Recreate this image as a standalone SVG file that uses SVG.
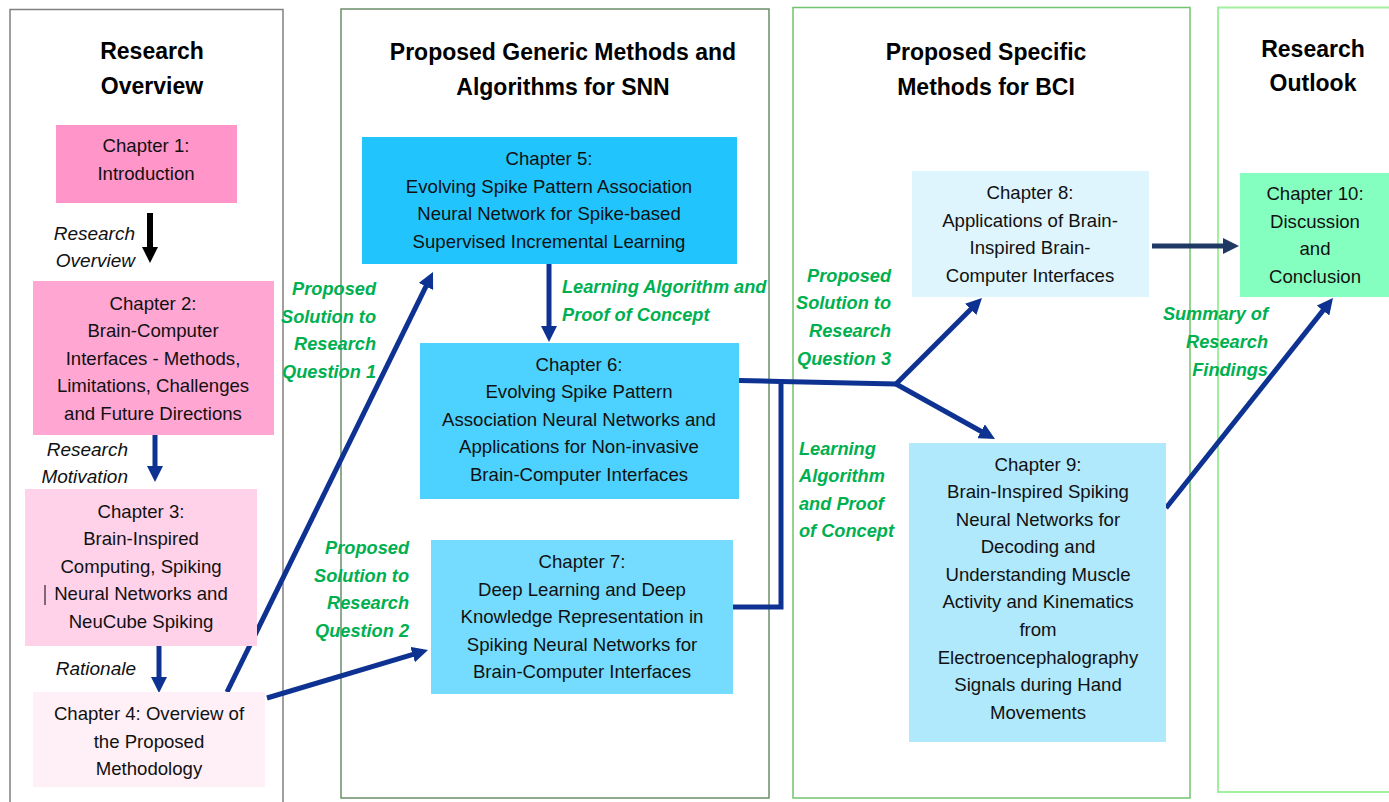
<svg xmlns="http://www.w3.org/2000/svg" width="1389" height="802" viewBox="0 0 1389 802">
  <style>
    .body { font-family: "Liberation Sans", Arial, sans-serif; font-size: 18.6px; fill: #111; text-anchor: middle; }
    .title { font-family: "Liberation Sans", Arial, sans-serif; font-size: 23px; font-weight: bold; fill: #000; text-anchor: middle; }
    .lbl { font-family: "Liberation Sans", Arial, sans-serif; font-size: 19px; font-style: italic; fill: #111; text-anchor: end; }
    .glbl { font-family: "Liberation Sans", Arial, sans-serif; font-size: 18.2px; font-style: italic; font-weight: bold; fill: #00b050; }
    .end { text-anchor: end; }
    .start { text-anchor: start; }
    .panel { fill: none; }
    .conn { fill: none; stroke: #0d3291; stroke-width: 5; stroke-linecap: butt; }
    .blue { marker-end: url(#headBlue); }
  </style>
  <defs>
    <marker id="headBlue" markerUnits="userSpaceOnUse" markerWidth="16" markerHeight="16" viewBox="0 0 16 16" refX="4" refY="8" orient="auto">
      <path d="M0,0 L16,8 L0,16 z" fill="#0d3291"/>
    </marker>
    <marker id="headBlack" markerUnits="userSpaceOnUse" markerWidth="16" markerHeight="16" viewBox="0 0 16 16" refX="4" refY="8" orient="auto">
      <path d="M0,0 L16,8 L0,16 z" fill="#000"/>
    </marker>
    <marker id="headNavy" markerUnits="userSpaceOnUse" markerWidth="16" markerHeight="16" viewBox="0 0 16 16" refX="4" refY="8" orient="auto">
      <path d="M0,0 L16,8 L0,16 z" fill="#1f3864"/>
    </marker>
  </defs>

  <rect width="1389" height="802" fill="#fff"/>

  <!-- column frames -->
  <g id="panels">
    <rect class="panel" x="10" y="9.5" width="273" height="800" stroke="#808080" stroke-width="1.5"/>
    <rect class="panel" x="341" y="9" width="428" height="789" stroke="#6b8e6b" stroke-width="1.5"/>
    <rect class="panel" x="793" y="7.5" width="397" height="790.5" stroke="#72c472" stroke-width="1.5"/>
    <rect class="panel" x="1218" y="7.5" width="180" height="784.5" stroke="#a0f0a0" stroke-width="2"/>
  </g>

  <!-- column headings -->
  <g id="headings">
    <text class="title" x="152" y="59">Research</text>
    <text class="title" x="152" y="94">Overview</text>
    <text class="title" x="563" y="60">Proposed Generic Methods and</text>
    <text class="title" x="563" y="95">Algorithms for SNN</text>
    <text class="title" x="986" y="60">Proposed Specific</text>
    <text class="title" x="986" y="95">Methods for BCI</text>
    <text class="title" x="1313" y="56.5">Research</text>
    <text class="title" x="1313" y="90.5">Outlook</text>
  </g>

  <!-- connectors -->
  <g id="connectors">
    <line x1="150" y1="213" x2="150" y2="251" stroke="#000" stroke-width="6" marker-end="url(#headBlack)"/>
    <line class="conn blue" x1="155" y1="433" x2="155" y2="470"/>
    <line class="conn blue" x1="159" y1="646" x2="159" y2="681"/>
    <line class="conn blue" x1="227" y1="692" x2="427.7" y2="282.8"/>
    <line class="conn blue" x1="267" y1="698" x2="416.5" y2="653.4"/>
    <line class="conn blue" x1="549" y1="264" x2="549" y2="330"/>
    <polyline class="conn" points="739,380.5 781,381.5 896,384"/>
    <polyline class="conn" points="733,607 781,607 781,379"/>
    <line class="conn blue" x1="896" y1="384" x2="973.5" y2="306.5"/>
    <line class="conn blue" x1="896" y1="384" x2="984.5" y2="433.2"/>
    <line x1="1152" y1="246" x2="1227" y2="246" stroke="#1f3864" stroke-width="5" marker-end="url(#headNavy)"/>
    <line class="conn blue" x1="1166" y1="508" x2="1325.5" y2="307.4"/>
  </g>

  <!-- connector labels -->
  <g id="labels">
    <text class="lbl" x="135" y="240">Research</text>
    <text class="lbl" x="135" y="267">Overview</text>
    <text class="lbl" x="128" y="456">Research</text>
    <text class="lbl" x="128" y="483">Motivation</text>
    <text class="lbl" x="136" y="675">Rationale</text>

    <text class="glbl end" x="376" y="295">Proposed</text>
    <text class="glbl end" x="376" y="322.5">Solution to</text>
    <text class="glbl end" x="376" y="350">Research</text>
    <text class="glbl end" x="376" y="377.5">Question 1</text>

    <text class="glbl end" x="409" y="554">Proposed</text>
    <text class="glbl end" x="409" y="581.5">Solution to</text>
    <text class="glbl end" x="409" y="609">Research</text>
    <text class="glbl end" x="409" y="636.5">Question 2</text>

    <text class="glbl start" x="562" y="293">Learning Algorithm and</text>
    <text class="glbl start" x="562" y="320.5">Proof of Concept</text>

    <text class="glbl end" x="891" y="281.5">Proposed</text>
    <text class="glbl end" x="891" y="309">Solution to</text>
    <text class="glbl end" x="891" y="337">Research</text>
    <text class="glbl end" x="891" y="364.5">Question 3</text>

    <text class="glbl start" x="799" y="455">Learning</text>
    <text class="glbl start" x="799" y="482">Algorithm</text>
    <text class="glbl start" x="799" y="509.5">and Proof</text>
    <text class="glbl start" x="799" y="537">of Concept</text>

    <text class="glbl end" x="1268" y="320">Summary of</text>
    <text class="glbl end" x="1268" y="347.5">Research</text>
    <text class="glbl end" x="1268" y="375.5">Findings</text>
  </g>

  <!-- chapters -->
  <g id="ch1">
    <rect x="56" y="125" width="181" height="78" fill="#ff95c8"/>
    <text class="body" x="146" y="152">Chapter 1:</text>
    <text class="body" x="146" y="179.5">Introduction</text>
  </g>
  <g id="ch2">
    <rect x="33" y="281" width="241" height="154" fill="#ffa6d3"/>
    <text class="body" x="153" y="309.5">Chapter 2:</text>
    <text class="body" x="153" y="337">Brain-Computer</text>
    <text class="body" x="153" y="364.5">Interfaces - Methods,</text>
    <text class="body" x="153" y="392">Limitations, Challenges</text>
    <text class="body" x="153" y="419.5">and Future Directions</text>
  </g>
  <g id="ch3">
    <rect x="25" y="489" width="232" height="157" fill="#ffd2ea"/>
    <text class="body" x="141" y="517.5">Chapter 3:</text>
    <text class="body" x="141" y="545">Brain-Inspired</text>
    <text class="body" x="141" y="572.5">Computing, Spiking</text>
    <text class="body" x="141" y="600">Neural Networks and</text>
    <text class="body" x="141" y="627.5">NeuCube Spiking</text>
    <line x1="45" y1="585" x2="45" y2="605" stroke="#000" stroke-width="1"/>
  </g>
  <g id="ch4">
    <rect x="33" y="692" width="232" height="95" fill="#fff0f8"/>
    <text class="body" x="149" y="720">Chapter 4: Overview of</text>
    <text class="body" x="149" y="747.5">the Proposed</text>
    <text class="body" x="149" y="775">Methodology</text>
  </g>
  <g id="ch5">
    <rect x="362" y="137" width="375" height="127" fill="#22c4fe"/>
    <text class="body" x="549" y="165">Chapter 5:</text>
    <text class="body" x="549" y="192.5">Evolving Spike Pattern Association</text>
    <text class="body" x="549" y="220">Neural Network for Spike-based</text>
    <text class="body" x="549" y="247.5">Supervised Incremental Learning</text>
  </g>
  <g id="ch6">
    <rect x="420" y="343" width="319" height="156" fill="#4dd1ff"/>
    <text class="body" x="579" y="370.5">Chapter 6:</text>
    <text class="body" x="579" y="398">Evolving Spike Pattern</text>
    <text class="body" x="579" y="425.5">Association Neural Networks and</text>
    <text class="body" x="579" y="453">Applications for Non-invasive</text>
    <text class="body" x="579" y="480.5">Brain-Computer Interfaces</text>
  </g>
  <g id="ch7">
    <rect x="431" y="540" width="302" height="154" fill="#75dcff"/>
    <text class="body" x="582" y="568">Chapter 7:</text>
    <text class="body" x="582" y="595.5">Deep Learning and Deep</text>
    <text class="body" x="582" y="623">Knowledge Representation in</text>
    <text class="body" x="582" y="650.5">Spiking Neural Networks for</text>
    <text class="body" x="582" y="678">Brain-Computer Interfaces</text>
  </g>
  <g id="ch8">
    <rect x="912" y="171" width="237" height="126" fill="#dff5fd"/>
    <text class="body" x="1030" y="199">Chapter 8:</text>
    <text class="body" x="1030" y="226.5">Applications of Brain-</text>
    <text class="body" x="1030" y="254">Inspired Brain-</text>
    <text class="body" x="1030" y="281.5">Computer Interfaces</text>
  </g>
  <g id="ch9">
    <rect x="909" y="443" width="257" height="299" fill="#b0e8fc"/>
    <text class="body" x="1038" y="470.5">Chapter 9:</text>
    <text class="body" x="1038" y="498">Brain-Inspired Spiking</text>
    <text class="body" x="1038" y="525.5">Neural Networks for</text>
    <text class="body" x="1038" y="553">Decoding and</text>
    <text class="body" x="1038" y="580.5">Understanding Muscle</text>
    <text class="body" x="1038" y="608">Activity and Kinematics</text>
    <text class="body" x="1038" y="636">from</text>
    <text class="body" x="1038" y="663.5">Electroencephalography</text>
    <text class="body" x="1038" y="691">Signals during Hand</text>
    <text class="body" x="1038" y="718.5">Movements</text>
  </g>
  <g id="ch10">
    <rect x="1240" y="173" width="149" height="124" fill="#85ffbf"/>
    <text class="body" x="1315" y="200">Chapter 10:</text>
    <text class="body" x="1315" y="227.5">Discussion</text>
    <text class="body" x="1315" y="255">and</text>
    <text class="body" x="1315" y="282.5">Conclusion</text>
  </g>
</svg>
